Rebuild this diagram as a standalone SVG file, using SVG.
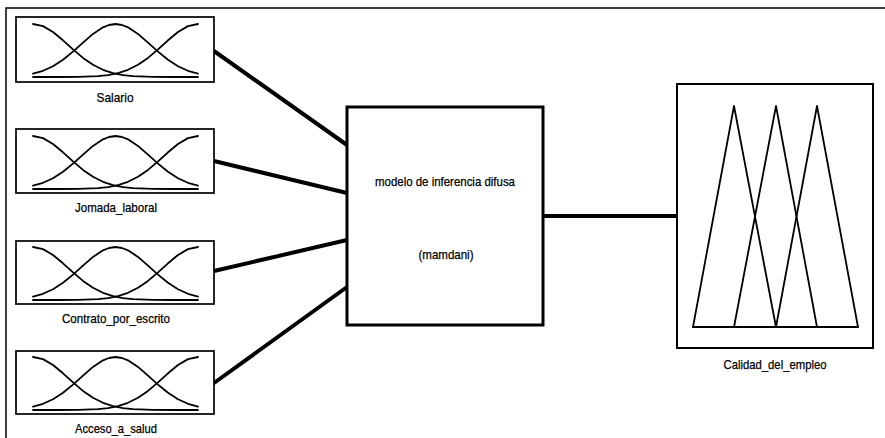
<svg xmlns="http://www.w3.org/2000/svg" xmlns:xlink="http://www.w3.org/1999/xlink" width="885" height="438" viewBox="0 0 885 438">
<style>
.frame{fill:none;stroke:#000;stroke-width:1.5}
.inbox{fill:#fff;stroke:#000;stroke-width:1.7}
.mf{fill:none;stroke:#000;stroke-width:1.8;stroke-linejoin:round;stroke-linecap:round}
.conn{fill:none;stroke:#000;stroke-width:4;stroke-linecap:butt}
.core{fill:#fff;stroke:#000;stroke-width:3}
.outbox{fill:#fff;stroke:#000;stroke-width:2}
.lbl{font-family:"Liberation Sans",Arial,sans-serif;font-size:13px;fill:#000;stroke:#000;stroke-width:0.25;text-anchor:middle}
</style>
<defs>
<g id="gauss">
<polyline class="mf" points="0,7 10,9.1 20,15 30,23.3 40,32.4 50,40.9 60,47.8 70,52.8 80,56.1 90,58.1 100,59.1 120,59.85 140,60 165,60"/>
<polyline class="mf" points="165,7 155,9.1 145,15 135,23.3 125,32.4 115,40.9 105,47.8 95,52.8 85,56.1 75,58.1 65,59.1 45,59.85 25,60 0,60"/>
<polyline class="mf" points="0,56.7 10,53.8 20,49.2 30,42.8 40,34.6 50,25.6 60,16.9 70,10.3 76,8 82.5,7 89,8 95,10.3 105,16.9 115,25.6 125,34.6 135,42.8 145,49.2 155,53.8 165,56.7"/>
</g>
</defs>
<rect width="885" height="438" fill="#fff"/>
<path class="frame" d="M6,438 V8 H885"/>
<g id="connectors">
<line class="conn" x1="214" y1="51" x2="347" y2="145"/>
<line class="conn" x1="214" y1="161" x2="347" y2="193"/>
<line class="conn" x1="214" y1="271" x2="347" y2="240"/>
<line class="conn" x1="214" y1="383" x2="347" y2="287"/>
<line class="conn" x1="543" y1="216" x2="677" y2="216"/>
</g>
<g id="salario">
<rect class="inbox" x="16" y="17" width="198" height="65"/>
<use xlink:href="#gauss" href="#gauss" transform="translate(33,17)"/>
<text class="lbl" x="115" y="102" textLength="37" lengthAdjust="spacingAndGlyphs">Salario</text>
</g>
<g id="jornada">
<rect class="inbox" x="16" y="129" width="198" height="64"/>
<use xlink:href="#gauss" href="#gauss" transform="translate(33,129)"/>
<text class="lbl" x="116" y="212" textLength="82" lengthAdjust="spacingAndGlyphs">Jomada_laboral</text>
</g>
<g id="contrato">
<rect class="inbox" x="16" y="241" width="198" height="63"/>
<use xlink:href="#gauss" href="#gauss" transform="translate(33,240)"/>
<text class="lbl" x="116" y="323" textLength="108" lengthAdjust="spacingAndGlyphs">Contrato_por_escrito</text>
</g>
<g id="acceso">
<rect class="inbox" x="16" y="351" width="198" height="63"/>
<use xlink:href="#gauss" href="#gauss" transform="translate(33,350)"/>
<text class="lbl" x="116" y="433" textLength="82" lengthAdjust="spacingAndGlyphs">Acceso_a_salud</text>
</g>
<g id="modelo">
<rect class="core" x="347" y="107" width="196" height="218"/>
<text class="lbl" x="445" y="186" textLength="140" lengthAdjust="spacingAndGlyphs">modelo de inferencia difusa</text>
<text class="lbl" x="446" y="259" textLength="55" lengthAdjust="spacingAndGlyphs">(mamdani)</text>
</g>
<g id="calidad">
<rect class="outbox" x="677" y="84" width="196" height="264"/>
<polyline class="mf" points="693,327 734,106 776,327"/>
<polyline class="mf" points="734,327 776,106 817,327"/>
<polyline class="mf" points="776,327 817,106 858,327"/>
<line class="mf" x1="693" y1="327" x2="858" y2="327"/>
<text class="lbl" x="775" y="369" textLength="103" lengthAdjust="spacingAndGlyphs">Calidad_del_empleo</text>
</g>
</svg>
